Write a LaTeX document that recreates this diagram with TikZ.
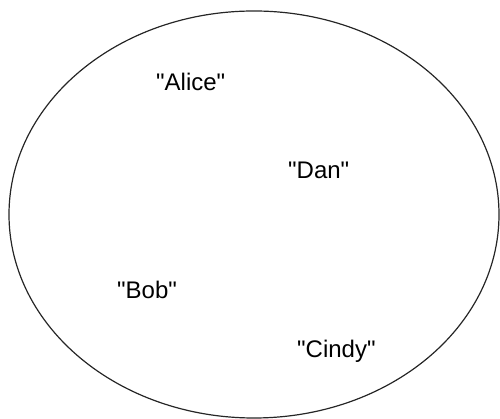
\documentclass[tikz,border=0pt]{standalone}
\usepackage{fontspec}
\setmainfont{Liberation Sans}
\newcommand{\qq}[1]{\textquotedbl#1\textquotedbl}
\begin{document}
\begin{tikzpicture}[x=1pt,y=1pt,
  lbl/.style={anchor=base west,inner sep=0pt,font=\fontsize{24}{28}\selectfont}]
\useasboundingbox (0,0) rectangle (500,419);
\draw[line width=1.2pt,black!85] (254,204.5) ellipse [x radius=245,y radius=203.5];
\node[lbl] (alice) at (156,419-91) {\qq{Alice}};
\node[lbl] (dan) at (288,419-179) {\qq{Dan}};
\node[lbl] (bob) at (117,419-299) {\qq{Bob}};
\node[lbl] (cindy) at (297,419-358) {\qq{Cindy}};
\end{tikzpicture}
\end{document}
